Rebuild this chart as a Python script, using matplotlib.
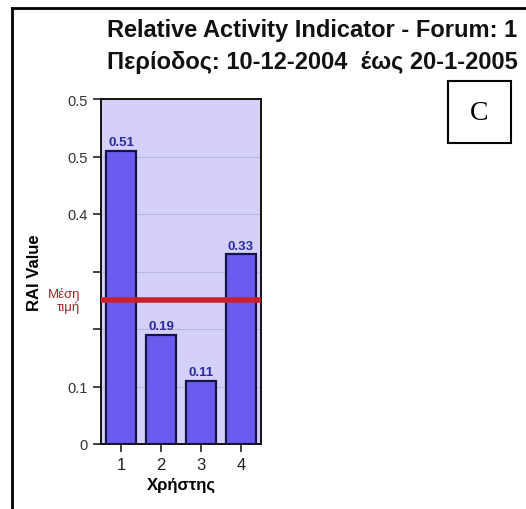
import matplotlib.pyplot as plt
from matplotlib.lines import Line2D
from matplotlib.patches import Rectangle
import numpy as np

# data
users = ['1', '2', '3', '4']
rai_values = [0.51, 0.19, 0.11, 0.33]
value_labels = ['0.51', '0.19', '0.11', '0.33']
mean_value = 0.25
ytick_pos = [0, 0.1, 0.2, 0.3, 0.4, 0.5, 0.6]
ytick_text = ['0', '0.1', '', '', '0.4', '0.5', '0.5']

plt.rcParams['font.family'] = ['Liberation Sans', 'DejaVu Sans']

fig = plt.figure(figsize=(5.26, 5.10), dpi=100)
fig.patch.set_facecolor('white')

ax = fig.add_axes([101/526, 65/510, 160/526, 345/510])
ax.set_facecolor('#d4d0fa')

x = np.arange(1, len(users) + 1)
ax.bar(x, rai_values, width=0.74, color='#6b5cf0', edgecolor='#141446', linewidth=1.6, zorder=3)
for xi, v, lab in zip(x, rai_values, value_labels):
    ax.text(xi, v + 0.004, lab, ha='center', va='bottom', fontsize=9.5,
            fontweight='bold', color='#2a2aa0', zorder=4)

ax.axhline(mean_value, color='#c8202e', linewidth=4, zorder=5)

ax.set_xlim(0.5, 4.5)
ax.set_ylim(0, 0.6)
ax.set_yticks(ytick_pos)
ax.set_yticklabels(ytick_text, fontsize=10.5, color='#333333')
ax.set_xticks(x)
ax.set_xticklabels(users, fontsize=12, color='#222222')
ax.yaxis.grid(True, color='#b8b8d8', linewidth=0.8, zorder=1)
ax.set_axisbelow(True)
ax.tick_params(axis='both', direction='out', length=6, width=1.2, color='#222222')
for s in ax.spines.values():
    s.set_linewidth(1.4)
    s.set_color('#111111')

ax.set_ylabel('RAI Value', fontsize=12, fontweight='bold', labelpad=18)
ax.set_xlabel('Χρήστης', fontsize=12, fontweight='bold', labelpad=3)

# mean label to the left of the axis
ax.text(-0.13, mean_value, 'Μέση\nτιμή', transform=ax.get_yaxis_transform(),
        ha='right', va='center', fontsize=9.5, color='#9a2a2a', linespacing=1.1)

# two-line title
fig.text(107/526, 1 - 30/510, 'Relative Activity Indicator - Forum: 1',
         fontsize=17, fontweight='bold', va='center', ha='left', color='#111111')
fig.text(107/526, 1 - 62/510, 'Περίοδος: 10-12-2004  έως 20-1-2005',
         fontsize=17, fontweight='bold', va='center', ha='left', color='#111111')

# boxed "C" marker
fig.add_artist(Rectangle((448/526, 1 - 144/510), 63/526, 62/510, transform=fig.transFigure,
                         facecolor='white', edgecolor='black', linewidth=1.5))
fig.text(479.5/526, 1 - 113/510, 'C', fontsize=20, family='Liberation Serif',
         ha='center', va='center')

# outer frame, cut off at right and bottom
fig.add_artist(Line2D([12/526, 12/526], [0, 1 - 9/510], transform=fig.transFigure,
                      color='black', linewidth=2))
fig.add_artist(Line2D([12/526, 1], [1 - 9/510, 1 - 9/510], transform=fig.transFigure,
                      color='black', linewidth=2))

fig.savefig('out.png', dpi=100)
